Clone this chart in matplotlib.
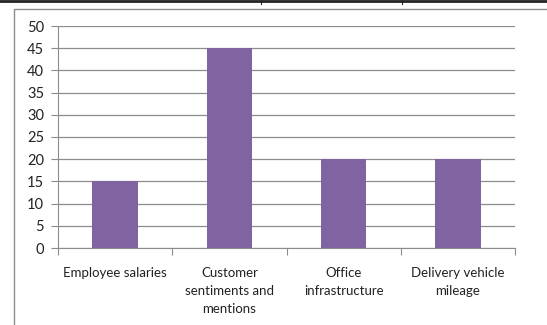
import matplotlib.pyplot as plt
from matplotlib.patches import Rectangle
from matplotlib.lines import Line2D

categories = ["Employee salaries", "Customer\nsentiments and\nmentions",
              "Office\ninfrastructure", "Delivery vehicle\nmileage"]
values = [15, 45, 20, 20]
yticks = [0, 5, 10, 15, 20, 25, 30, 35, 40, 45, 50]

plt.rcParams['font.family'] = ['Lato', 'DejaVu Sans']

W, H = 547, 325
fig = plt.figure(figsize=(W / 100, H / 100), dpi=100)

# table border above the chart
fig.add_artist(Line2D([0, 1], [1 - 1 / H, 1 - 1 / H], color='#222222', lw=2))
for xp in (261, 402):
    fig.add_artist(Line2D([xp / W, xp / W], [1, 1 - 4 / H], color='#222222', lw=0.8))

# chart area frame (runs off the right and bottom edges)
fig.add_artist(Rectangle((14 / W, -0.1), 1.2, 1 - 9 / H + 0.1, fill=False,
                         edgecolor='#8c8c8c', lw=1, transform=fig.transFigure))

ax = fig.add_axes([58 / W, 1 - 248 / H, (515 - 58) / W, (248 - 26) / H])
x = range(len(categories))
ax.bar(x, values, width=0.4, color='#8064A2', zorder=3)

ax.set_xlim(-0.5, len(categories) - 0.5)
ax.set_ylim(0, 50)
ax.set_yticks(yticks)
ax.yaxis.grid(True, color='#8c8c8c', lw=0.9)
ax.set_axisbelow(True)

for s in ('top', 'right'):
    ax.spines[s].set_visible(False)
ax.spines['left'].set_color('#8c8c8c')
ax.spines['bottom'].set_color('#8c8c8c')

ax.set_xticks([i - 0.5 for i in range(len(categories) + 1)], minor=False)
ax.set_xticklabels([])
ax.set_xticks(list(x), minor=True)
ax.set_xticklabels(categories, minor=True, fontsize=9.5, color='#222222',
                   linespacing=1.6, va='top')
ax.tick_params(axis='x', which='major', length=5, color='#8c8c8c')
ax.tick_params(axis='x', which='minor', length=0, pad=14)
ax.tick_params(axis='y', length=5, color='#8c8c8c', labelsize=10.5,
               labelcolor='#222222', pad=5)

fig.savefig('out.png', dpi=100)
